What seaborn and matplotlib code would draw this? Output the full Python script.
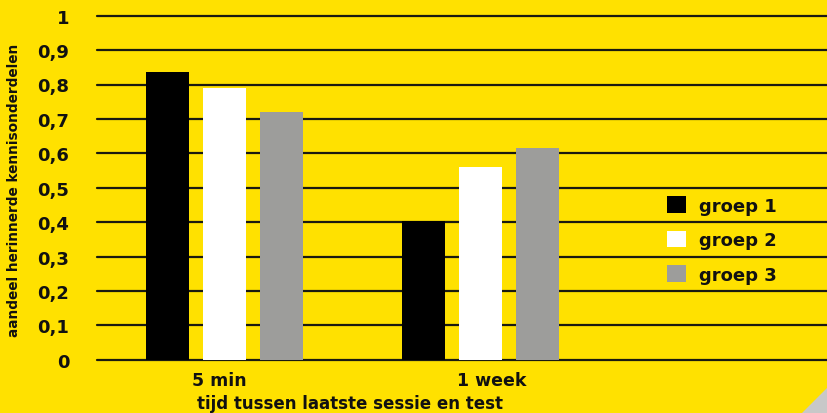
import matplotlib
matplotlib.use("Agg")
import matplotlib.pyplot as plt
import seaborn as sns
import pandas as pd
from matplotlib.patches import Patch, Polygon

categories = ["5 min", "1 week"]
groups = ["groep 1", "groep 2", "groep 3"]
groep1 = [0.836, 0.402]
groep2 = [0.790, 0.560]
groep3 = [0.719, 0.615]
yticks = [0, 0.1, 0.2, 0.3, 0.4, 0.5, 0.6, 0.7, 0.8, 0.9, 1]
ytick_labels = ["0", "0,1", "0,2", "0,3", "0,4", "0,5", "0,6", "0,7", "0,8", "0,9", "1"]
colors = ["#000000", "#FFFFFF", "#9D9D9B"]
bg = "#FFE100"

rows = []
for g, vals in zip(groups, [groep1, groep2, groep3]):
    for c, v in zip(categories, vals):
        rows.append({"tijd": c, "groep": g, "waarde": v})
df = pd.DataFrame(rows)

sns.set_theme(style="white")
plt.rcParams["font.family"] = ["DejaVu Sans"]

W, H = 828, 414
fig = plt.figure(figsize=(W / 100, H / 100), dpi=100, facecolor=bg)
ax = fig.add_axes([97 / W, (H - 360.7) / H, 1 - 97 / W, 344 / H])
ax.set_facecolor(bg)

sns.barplot(data=df, x="tijd", y="waarde", hue="groep", order=categories,
            hue_order=groups, palette=colors, width=0.67, gap=0.25,
            saturation=1, ax=ax, legend=False, zorder=3, linewidth=0)

ax.set_xlim(-0.5, 2.36)
ax.set_ylim(0, 1)
ax.set_yticks(yticks)
ax.set_yticklabels(ytick_labels, fontsize=13, fontweight="bold", color="#111111")
ax.set_xticks([-0.02, 1.043])
ax.set_xticklabels(categories, fontsize=12.5, fontweight="bold", color="#111111")
ax.tick_params(axis="y", length=0, pad=20)
ax.tick_params(axis="x", length=0, pad=8)
for y in yticks:
    ax.axhline(y, color="#1a1a10", linewidth=1.6, zorder=1, clip_on=False)
for s in ax.spines.values():
    s.set_visible(False)
ax.set_xlabel("")
ax.set_ylabel("")

fig.text(14 / W, (H - 190) / H, "aandeel herinnerde kennisonderdelen", rotation=90,
         ha="center", va="center", fontsize=9.8, fontweight="bold", color="#111111")
fig.text(350 / W, (H - 404) / H, "tijd tussen laatste sessie en test",
         ha="center", va="center", fontsize=12, fontweight="bold", color="#111111")

handles = [Patch(facecolor=c, edgecolor="none") for c in colors]
leg = fig.legend(handles, groups, loc="center left", bbox_to_anchor=(667 / W, (H - 241) / H),
                 frameon=False, handlelength=1.05, handleheight=1.05, labelspacing=0.88,
                 handletextpad=0.7, borderpad=0, borderaxespad=0,
                 prop={"size": 13, "weight": "bold"})
for t in leg.get_texts():
    t.set_color("#111111")

# page curl at bottom-right corner
curl = Polygon([[W - 26, 0], [W, 0], [W, 26]], closed=True,
               transform=None, facecolor="#C8C8C8", edgecolor="none")
fig.patches.append(curl)

fig.savefig("out.png", dpi=100, facecolor=bg)
